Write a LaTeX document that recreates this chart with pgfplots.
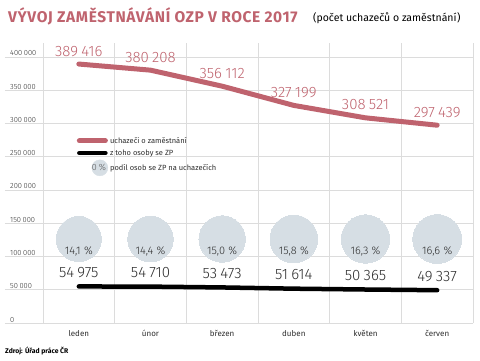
\documentclass[border=0pt]{standalone}
\usepackage{pgfplots}
\pgfplotsset{compat=1.18}
\usepackage{fontspec}
\setmainfont{Fira Sans}
\newfontfamily\light{Fira Sans Light}
\definecolor{rose}{RGB}{191,99,110}
\definecolor{circ}{RGB}{214,222,228}
\definecolor{grd}{RGB}{220,220,220}
\definecolor{txt}{RGB}{45,45,45}
\def\s{\hspace{0.22em}}
\def\p{\hspace{0.3em}}
\begin{document}
\begin{tikzpicture}
\path[use as bounding box] (-5pt,-37pt) rectangle (475pt,323pt);
\begin{axis}[
  at={(0pt,0pt)}, anchor=south west,
  scale only axis, width=468pt, height=280pt,
  xmin=-1.03, xmax=5.5, ymin=0, ymax=421053,
  axis line style={draw=none},
  xtick={-0.5,0.5,...,5.5}, xticklabels={},
  ytick={0,50000,...,400000}, scaled y ticks=false,
  yticklabels={0,50\s000,100\s000,150\s000,200\s000,250\s000,300\s000,350\s000,400\s000},
  grid=major, grid style={grd, line width=0.8pt},
  major tick length=0pt,
  yticklabel style={anchor=base west, inner sep=0pt, xshift=5pt, yshift=1pt, font=\light\fontsize{7.5}{8}\selectfont, text=txt},
  extra x ticks={0,1,2,3,4,5},
  extra x tick labels={leden,únor,březen,duben,květen,červen},
  extra x tick style={grid=none, major tick length=0pt, xticklabel style={anchor=base, inner sep=0pt, yshift=-13pt, font=\fontsize{8}{10}\selectfont, text=txt}},
  clip=false,
  legend style={at={(axis cs:-0.03,283000)}, anchor=north west, draw=none, fill=none, inner sep=0pt, row sep=1pt, font=\fontsize{7.5}{9}\selectfont, text=txt, legend cell align=left,
    /tikz/every even column/.style={column sep=12pt}},
]
\addplot[rose, line width=5pt, line join=round, line cap=round,
  point meta=explicit symbolic, nodes near coords,
  nodes near coords style={anchor=base, inner sep=0pt, yshift=8pt, font=\light\fontsize{15}{16}\selectfont, text=rose},
  legend image code/.code={\draw[rose, line width=5pt, line cap=round] (2.5pt,0pt) -- (28.5pt,0pt);}]
  table[meta=lab] {
x y lab
0 389416 389\s416
1 380208 380\s208
2 356112 356\s112
3 327199 327\s199
4 308521 308\s521
5 297439 297\s439
};
\addlegendentry{uchazeči o zaměstnání}
\addplot[black, line width=4.5pt, line join=round, line cap=round,
  point meta=explicit symbolic, nodes near coords,
  nodes near coords style={anchor=base, inner sep=0pt, yshift=9pt, font=\light\fontsize{15}{16}\selectfont, text=txt},
  legend image code/.code={\draw[black, line width=4.5pt, line cap=round] (2.5pt,0pt) -- (28.5pt,0pt);}]
  table[meta=lab] {
x y lab
0 54975 54\s975
1 54710 54\s710
2 53473 53\s473
3 51614 51\s614
4 50365 50\s365
5 49337 49\s337
};
\addlegendentry{z toho osoby se ZP}
\addplot[scatter, only marks, mark=*, circ, point meta=\thisrow{r},
  mark options={draw=circ, fill=circ, line width=0pt},
  scatter/use mapped color={draw=circ, fill=circ},
  visualization depends on={\thisrow{r} \as \rad},
  scatter/@pre marker code/.append style={/tikz/mark size=\rad pt},
  legend image code/.code={\fill[circ] (23pt,0pt) circle (8pt); \node[inner sep=0pt, anchor=center, font=\light\fontsize{9}{10}\selectfont, text=txt!80] at (22pt,0pt) {0\s\%};}]
  table {
x y r
0 126300 22.5
1 126300 22.74
2 126300 23.21
3 126300 23.82
4 126300 24.19
5 126300 24.41
};
\addlegendentry{podíl osob se ZP na uchazečích}
\addplot[draw=none, mark=none, forget plot, point meta=explicit symbolic, nodes near coords,
  nodes near coords style={anchor=center, inner sep=0pt, font=\light\fontsize{11}{12}\selectfont, text=txt}]
  table[meta=lab] {
x y lab
0 108000 14,1\p\%
1 108000 14,4\p\%
2 108000 15,0\p\%
3 108000 15,8\p\%
4 108000 16,3\p\%
5 108000 16,6\p\%
};
\end{axis}
\node[anchor=base west, inner sep=0pt, font=\bfseries\fontsize{15.5}{17}\selectfont\addfontfeature{LetterSpace=4}, text=rose] at (3pt,301pt) {VÝVOJ ZAMĚSTNÁVÁNÍ OZP V ROCE 2017};
\node[anchor=base west, inner sep=0pt, font=\fontsize{10.5}{12}\selectfont, text=black] at (308pt,302pt) {(počet uchazečů o zaměstnání)};
\node[anchor=base west, inner sep=0pt, font=\bfseries\fontsize{6.8}{8}\selectfont, text=black] at (0pt,-30pt) {Zdroj: Úřad práce ČR};
\end{tikzpicture}
\end{document}
